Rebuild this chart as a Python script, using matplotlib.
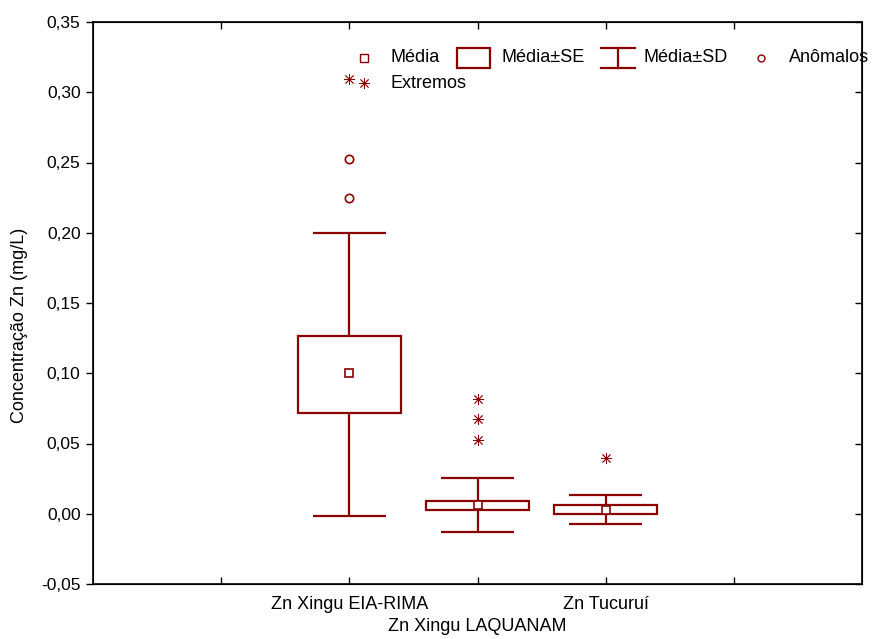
import matplotlib.pyplot as plt
import matplotlib.ticker as mticker
from matplotlib.patches import Rectangle
from matplotlib.lines import Line2D

plt.rcParams['font.family'] = ['Liberation Sans', 'DejaVu Sans']

# data
groups = ["Zn Xingu EIA-RIMA", "Zn Xingu LAQUANAM", "Zn Tucuruí"]
pos = [1, 2, 3]
mean = [0.1004, 0.0064, 0.0024]
se_lo = [0.0719, 0.0028, 0.0000]
se_hi = [0.1267, 0.0093, 0.0059]
sd_lo = [-0.0014, -0.0133, -0.0076]
sd_hi = [0.2000, 0.0256, 0.0133]
outliers = [[0.2527, 0.2249], [], []]
extremes = [[0.3094], [0.0820, 0.0676, 0.0527], [0.0394]]

red = '#8b0000'
box_w = 0.80
cap_w = 0.57

fig = plt.figure(figsize=(8.8, 6.39), dpi=100)
ax = fig.add_axes([93 / 880, 1 - 584 / 639, 769 / 880, 562 / 639])

for i, x in enumerate(pos):
    # whiskers (mean +- SD)
    ax.vlines(x, sd_lo[i], se_lo[i], color=red, lw=1.6)
    ax.vlines(x, se_hi[i], sd_hi[i], color=red, lw=1.6)
    ax.hlines([sd_lo[i], sd_hi[i]], x - cap_w / 2, x + cap_w / 2, color=red, lw=1.6)
    # box (mean +- SE)
    ax.add_patch(Rectangle((x - box_w / 2, se_lo[i]), box_w, se_hi[i] - se_lo[i],
                           fill=False, ec=red, lw=1.6, zorder=3))
    ax.plot(x, mean[i], 's', ms=6, mfc='white', mec=red, mew=1.2, zorder=4)
    if outliers[i]:
        ax.plot([x] * len(outliers[i]), outliers[i], 'o', ms=6, mfc='none', mec=red, mew=1.2)
    if extremes[i]:
        ax.plot([x] * len(extremes[i]), extremes[i], ls='none', marker=(8, 2, 0),
                ms=8, mec=red, mew=0.6)

ax.set_xlim(-1, 5)
ax.set_ylim(-0.05, 0.35)
ax.yaxis.set_major_locator(mticker.MultipleLocator(0.05))
ax.yaxis.set_major_formatter(mticker.FuncFormatter(lambda v, p: f"{v:.2f}".replace('.', ',')))
ax.tick_params(axis='y', direction='out', length=5, width=1, labelsize=12.5, pad=4)
ax.set_xticks([0, 1, 2, 3, 4])
ax.set_xticklabels([])
ax.tick_params(axis='x', direction='in', length=5, width=1, top=True)
for sp in ax.spines.values():
    sp.set_linewidth(1.2)

# category labels, staggered on two lines
xt = ax.get_xaxis_transform()
label_y = [-0.037, -0.0765, -0.037]
for x, g, yy in zip(pos, groups, label_y):
    ax.text(x, yy, g, transform=xt, ha='center', va='center', fontsize=13)

# right-side inward ticks
ax2 = ax.twinx()
ax2.set_ylim(ax.get_ylim())
ax2.yaxis.set_major_locator(mticker.MultipleLocator(0.05))
ax2.tick_params(axis='y', direction='in', length=5, width=1, labelright=False)

ax.set_ylabel("Concentração Zn (mg/L)", fontsize=13)
ax.yaxis.set_label_coords(-0.085, 0.461)

# legend drawn by hand in axes coordinates
tr = ax.transAxes
ly1, ly2 = 0.936, 0.891
fs = 13
ax.plot(0.352, ly1, 's', ms=6, mfc='white', mec=red, mew=1.0, transform=tr, clip_on=False)
ax.text(0.3875, ly1, "Média", transform=tr, va='center', fontsize=fs)
ax.add_patch(Rectangle((0.473, ly1 - 0.017), 0.043, 0.034, transform=tr, fill=False,
                       ec=red, lw=1.6, clip_on=False))
ax.text(0.531, ly1, "Média±SE", transform=tr, va='center', fontsize=fs)
for seg in [((0.661, 0.705), (ly1 + 0.017, ly1 + 0.017)),
            ((0.661, 0.705), (ly1 - 0.017, ly1 - 0.017)),
            ((0.683, 0.683), (ly1 - 0.017, ly1 + 0.017))]:
    ax.add_line(Line2D(seg[0], seg[1], transform=tr, color=red, lw=1.6, clip_on=False))
ax.text(0.7165, ly1, "Média±SD", transform=tr, va='center', fontsize=fs)
ax.plot(0.869, ly1, 'o', ms=5, mfc='none', mec=red, mew=1.0, transform=tr, clip_on=False)
ax.text(0.905, ly1, "Anômalos", transform=tr, va='center', fontsize=fs, zorder=0)
ax.plot(0.352, ly2, ls='none', marker=(8, 2, 0), ms=8, mec=red, mew=0.6,
        transform=tr, clip_on=False)
ax.text(0.3875, ly2, "Extremos", transform=tr, va='center', fontsize=fs)

fig.savefig("out.png", dpi=100)
